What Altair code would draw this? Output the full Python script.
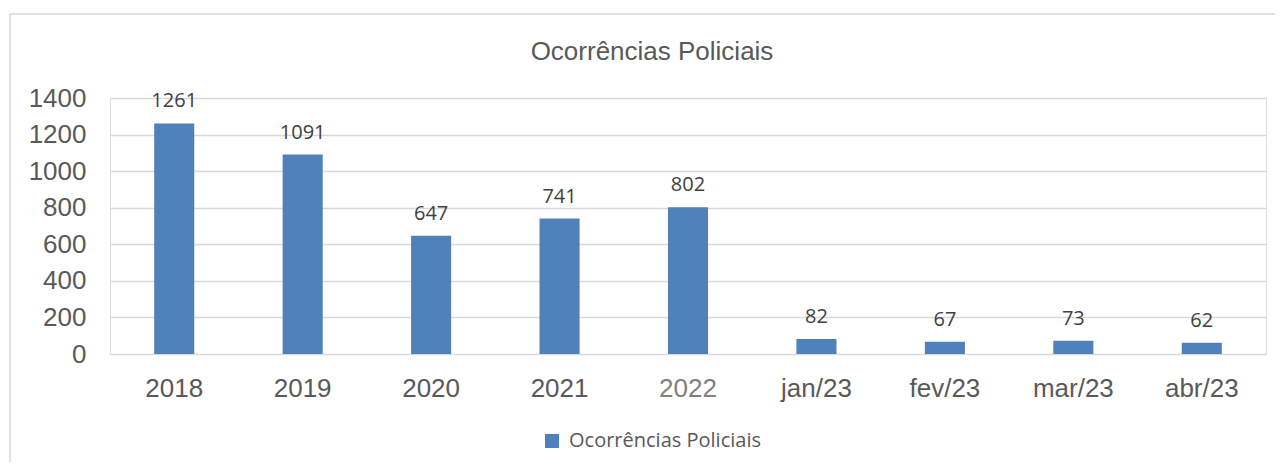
import altair as alt
import pandas as pd

categories = ["2018", "2019", "2020", "2021", "2022", "jan/23", "fev/23", "mar/23", "abr/23"]
values = [1261, 1091, 647, 741, 802, 82, 67, 73, 62]
series_name = "Ocorrências Policiais"
title_text = "Ocorrências Policiais"
y_ticks = [0, 200, 400, 600, 800, 1000, 1200, 1400]

df = pd.DataFrame({"cat": categories, "val": values, "serie": [series_name] * len(categories)})

W, H = 1156, 256

base = alt.Chart(df)

x_scale = alt.Scale(paddingInner=0.688, paddingOuter=0.344)
y_scale = alt.Scale(domain=[0, 1400], nice=False)

x_axis = alt.Axis(
    title=None, domain=False, ticks=False, labelAngle=0,
    labelFont="Liberation Sans", labelFontSize=26, labelPadding=21,
    labelOverlap=False,
    labelColor=alt.condition("datum.value == '2022'", alt.value("#7f7f7f"), alt.value("#595959")),
)
y_axis = alt.Axis(
    title=None, domain=False, ticks=False, values=y_ticks, format="d",
    labelOverlap=False, labelFlush=False,
    labelFont="Liberation Sans", labelFontSize=26, labelColor="#595959",
    labelPadding=24, gridColor="#d9d9d9", gridWidth=1.3,
)

x_enc = alt.X("cat:N", sort=categories, scale=x_scale, axis=x_axis)
y_enc = alt.Y("val:Q", scale=y_scale, axis=y_axis)

bars = base.mark_bar(color="#4F81BD").encode(
    x=x_enc,
    y=y_enc,
    color=alt.Color(
        "serie:N",
        scale=alt.Scale(range=["#4F81BD"]),
        legend=alt.Legend(
            title=None, orient="none", legendX=432, legendY=333, padding=0,
            symbolType="square", symbolSize=196, symbolStrokeWidth=0,
            labelFont="Open Sans", labelFontSize=20, labelColor="#595959",
            labelOffset=7, labelLimit=0,
        ),
    ),
)

labels = base.mark_text(
    font="Open Sans", fontSize=20, color="#404040", baseline="alphabetic", dy=-16
).encode(
    x=x_enc,
    y=y_enc,
    text="val:Q",
)

title_df = pd.DataFrame({"t": [title_text]})
title = alt.Chart(title_df).mark_text(
    font="Liberation Sans", fontSize=26, color="#595959", baseline="alphabetic", align="center"
).encode(x=alt.value(542), y=alt.value(-38.5), text="t:N")

border = alt.Chart(pd.DataFrame({"b": [0]})).mark_rect(
    fill="transparent", stroke="#d9d9d9", strokeWidth=1.5
).encode(x=alt.value(-100), x2=alt.value(1185), y=alt.value(-84), y2=alt.value(380))

chart = alt.layer(border, bars, labels, title).properties(
    width=W, height=H,
    autosize=alt.AutoSizeParams(type="none"),
    padding={"left": 102, "top": 90, "right": 9, "bottom": 108},
).configure_view(strokeWidth=0).configure(background="white")

chart.save("out.html", embed_options={"renderer": "svg", "actions": False})
